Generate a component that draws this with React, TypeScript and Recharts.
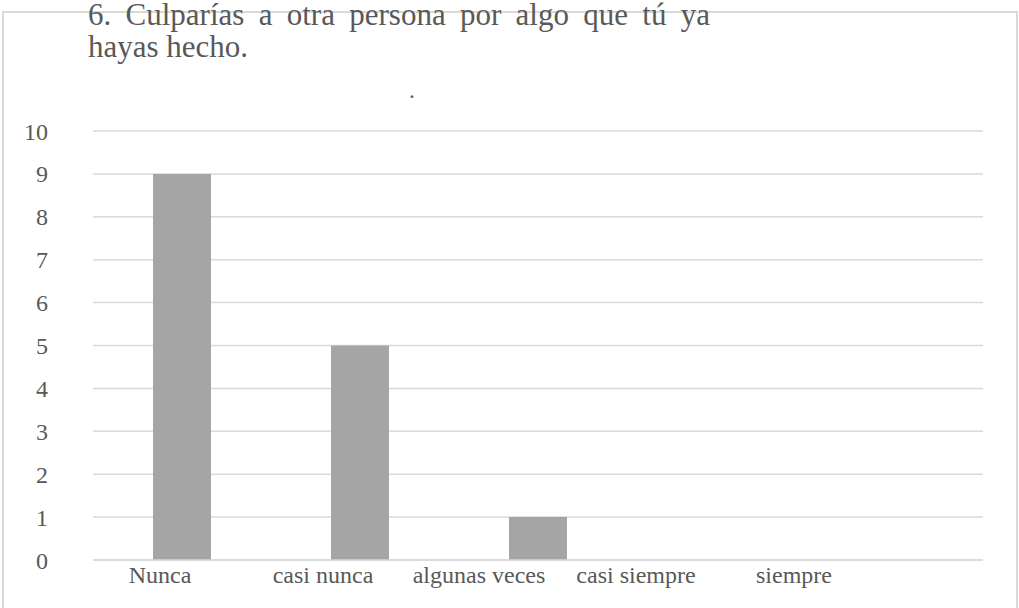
import React from 'react';
import { BarChart, Bar, XAxis, YAxis, CartesianGrid } from 'recharts';

const categories = ['Nunca', 'casi nunca', 'algunas veces', 'casi siempre', 'siempre'];
const counts = [9, 5, 1, 0, 0];
const yTicks = [0, 1, 2, 3, 4, 5, 6, 7, 8, 9, 10];

const chartData = categories.map((name, i) => ({ name, value: counts[i] }));

const textColor = '#595959';
const lineColor = '#d9d9d9';
const font = 'Liberation Serif';

// the category labels sit left of their bars, drifting further left each step
const labelNudge = [-22, -37, -59, -80, -100];

const XTick = (props: any) => {
  const { x, y, payload, index } = props;
  return (
    <text x={x + labelNudge[index]} y={y} dy={15} textAnchor="middle" fill={textColor} fontSize={24} fontFamily={font}>
      {payload.value}
    </text>
  );
};

export default function App() {
  return (
    <div style={{ position: 'absolute', left: 0, top: 0, width: 1019, height: 608, overflow: 'hidden', background: '#fff', fontFamily: font }}>
      <div
        style={{
          position: 'absolute',
          left: 2,
          top: 11,
          width: 1016,
          height: 700,
          border: `2px solid ${lineColor}`,
          boxSizing: 'border-box',
        }}
      />
      <BarChart
        width={1019}
        height={608}
        data={chartData}
        margin={{ top: 131, right: 36, left: 0, bottom: 0 }}
        barCategoryGap="33.7%"
        style={{ fontFamily: font }}
      >
        <CartesianGrid vertical={false} stroke={lineColor} strokeWidth={1.5} />
        <XAxis
          dataKey="name"
          height={48}
          tickLine={false}
          axisLine={{ stroke: lineColor, strokeWidth: 1.5 }}
          tickMargin={2}
          tick={<XTick />}
          interval={0}
        />
        <YAxis
          width={93}
          domain={[0, 10]}
          ticks={yTicks}
          interval={0}
          axisLine={false}
          tickLine={false}
          tickMargin={39}
          tick={{ fill: textColor, fontSize: 24, fontFamily: font }}
        />
        <Bar dataKey="value" fill="#a5a5a5" isAnimationActive={false} />
      </BarChart>
      <div
        style={{
          position: 'absolute',
          left: 88,
          top: -1,
          width: 622,
          fontFamily: font,
          fontSize: 31,
          lineHeight: '32px',
          color: textColor,
        }}
      >
        <div style={{ textAlign: 'justify', textAlignLast: 'justify' }}>
          6. Culparías a otra persona por algo que tú ya
        </div>
        <div>hayas hecho.</div>
      </div>
      <div
        style={{
          position: 'absolute',
          left: 409,
          top: 78,
          fontFamily: font,
          fontSize: 24,
          lineHeight: '24px',
          color: textColor,
        }}
      >
        .
      </div>
    </div>
  );
}
